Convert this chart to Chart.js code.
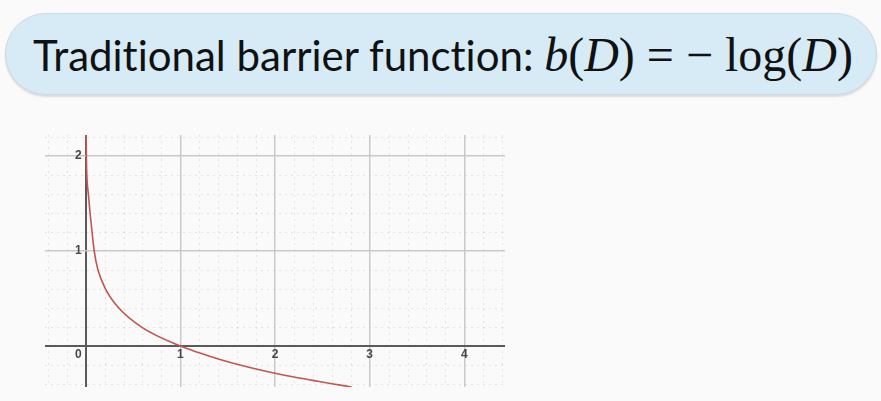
<!DOCTYPE html>
<html>
<head>
<meta charset="utf-8">
<script src="https://cdn.jsdelivr.net/npm/chart.js@4"></script>
<style>
  html, body { margin: 0; padding: 0; background: #fafafa; }
  body { width: 881px; height: 401px; position: relative; overflow: hidden; }
  .title {
    position: absolute; left: 5px; top: 13px; width: 872px; height: 82px;
    box-sizing: border-box; border-radius: 41px;
    background: #d6ebf6; border: 1px solid #c9dbe5;
    box-shadow: 0 2px 2px rgba(0,0,0,0.12);
  }
  .title span.txt {
    position: absolute; left: 27px; top: 13px;
    font-family: Lato, "Open Sans", sans-serif; font-size: 42px; color: #111;
    white-space: nowrap; font-variant-ligatures: none;
  }
  .math { font-family: "Liberation Serif", "DejaVu Serif", serif; font-size: 48px; }
  .math i { font-style: italic; }
  .chartBox { position: absolute; left: 0; top: 100px; width: 881px; height: 301px; }
</style>
</head>
<body>
<div class="title"><span class="txt">Traditional barrier function: <span class="math"><i>b</i>(<i>D</i>) = − log(<i>D</i>)</span></span></div>
<div class="chartBox"><canvas id="barrierChart"></canvas></div>
<script>
// points
const curveX = [0.005, 0.007, 0.012, 0.028, 0.046, 0.067, 0.09, 0.13, 0.21, 0.35, 0.59, 1.0, 1.2, 1.4, 1.6, 1.8, 2.0, 2.2, 2.4, 2.6, 2.81];
const curveY = [2.22, 2.0, 1.8, 1.6, 1.4, 1.2, 1.0, 0.8, 0.6, 0.4, 0.2, 0, -0.07, -0.135, -0.19, -0.24, -0.285, -0.325, -0.36, -0.395, -0.43];

const xTickLabels = [0, 1, 2, 3, 4];
const yTickLabels = [1, 2];

const xRange = [-0.43, 4.43];
const yRange = [-0.43, 2.22];
const minorStep = 0.2;

function gridColor(ctx) {
  const v = ctx.tick ? ctx.tick.value : 0;
  return v === 0 ? "#5a5a5a" : "#c9c9c9";
}

function gridWidth(ctx) {
  const v = ctx.tick ? ctx.tick.value : 0;
  return v === 0 ? 2 : 1.5;
}

// faint dotted lines every 0.2 units, under the major grid
const minorGrid = {
  id: "minorGrid",
  beforeDraw(chart) {
    const { ctx, chartArea, scales } = chart;
    ctx.save();
    ctx.strokeStyle = "rgba(0,0,0,0.09)";
    ctx.lineWidth = 1;
    ctx.setLineDash([2, 4]);
    for (let i = Math.ceil(xRange[0] / minorStep); i * minorStep <= xRange[1]; i++) {
      if (i % 5 === 0) continue;
      const px = Math.round(scales.x.getPixelForValue(i * minorStep)) + 0.5;
      ctx.beginPath();
      ctx.moveTo(px, chartArea.top);
      ctx.lineTo(px, chartArea.bottom);
      ctx.stroke();
    }
    for (let i = Math.ceil(yRange[0] / minorStep); i * minorStep <= yRange[1]; i++) {
      if (i % 5 === 0) continue;
      const py = Math.round(scales.y.getPixelForValue(i * minorStep)) + 0.5;
      ctx.beginPath();
      ctx.moveTo(chartArea.left, py);
      ctx.lineTo(chartArea.right, py);
      ctx.stroke();
    }
    ctx.restore();
  }
};

const axisLabels = {
  id: "axisLabels",
  afterDraw(chart) {
    const { ctx, scales } = chart;
    const x0 = scales.x.getPixelForValue(0);
    const y0 = scales.y.getPixelForValue(0);
    ctx.save();
    ctx.font = "bold 12px 'Liberation Sans', Arial, sans-serif";
    ctx.fillStyle = "#474747";
    ctx.textBaseline = "middle";

    xTickLabels.forEach(v => {
      const px = scales.x.getPixelForValue(v);
      if (v === 0) {
        ctx.textAlign = "right";
        ctx.fillText("0", x0 - 4, y0 + 9);
      } else {
        ctx.textAlign = "center";
        ctx.fillText(String(v), px, y0 + 9);
      }
    });

    ctx.textAlign = "right";
    yTickLabels.forEach(v => {
      ctx.fillText(String(v), x0 - 4, scales.y.getPixelForValue(v));
    });
    ctx.restore();
  }
};

new Chart(document.getElementById("barrierChart"), {
  type: "scatter",
  data: {
    datasets: [
      {
        data: curveX.map((x, i) => ({ x, y: curveY[i] })),
        showLine: true,
        borderColor: "#c3554c",
        borderWidth: 1.6,
        pointRadius: 0,
        cubicInterpolationMode: "monotone",
        fill: false
      }
    ]
  },
  options: {
    responsive: true,
    maintainAspectRatio: false,
    animation: false,
    layout: {
      padding: { left: 45, top: 35, right: 376, bottom: 14 }
    },
    plugins: {
      legend: { display: false },
      tooltip: { enabled: false }
    },
    scales: {
      x: {
        type: "linear",
        min: xRange[0],
        max: xRange[1],
        border: { display: false },
        grid: { color: gridColor, lineWidth: gridWidth, drawTicks: false },
        ticks: { display: false, stepSize: 1, includeBounds: false }
      },
      y: {
        type: "linear",
        min: yRange[0],
        max: yRange[1],
        border: { display: false },
        grid: { color: gridColor, lineWidth: gridWidth, drawTicks: false },
        ticks: { display: false, stepSize: 1, includeBounds: false }
      }
    }
  },
  plugins: [minorGrid, axisLabels]
});
</script>
</body>
</html>
